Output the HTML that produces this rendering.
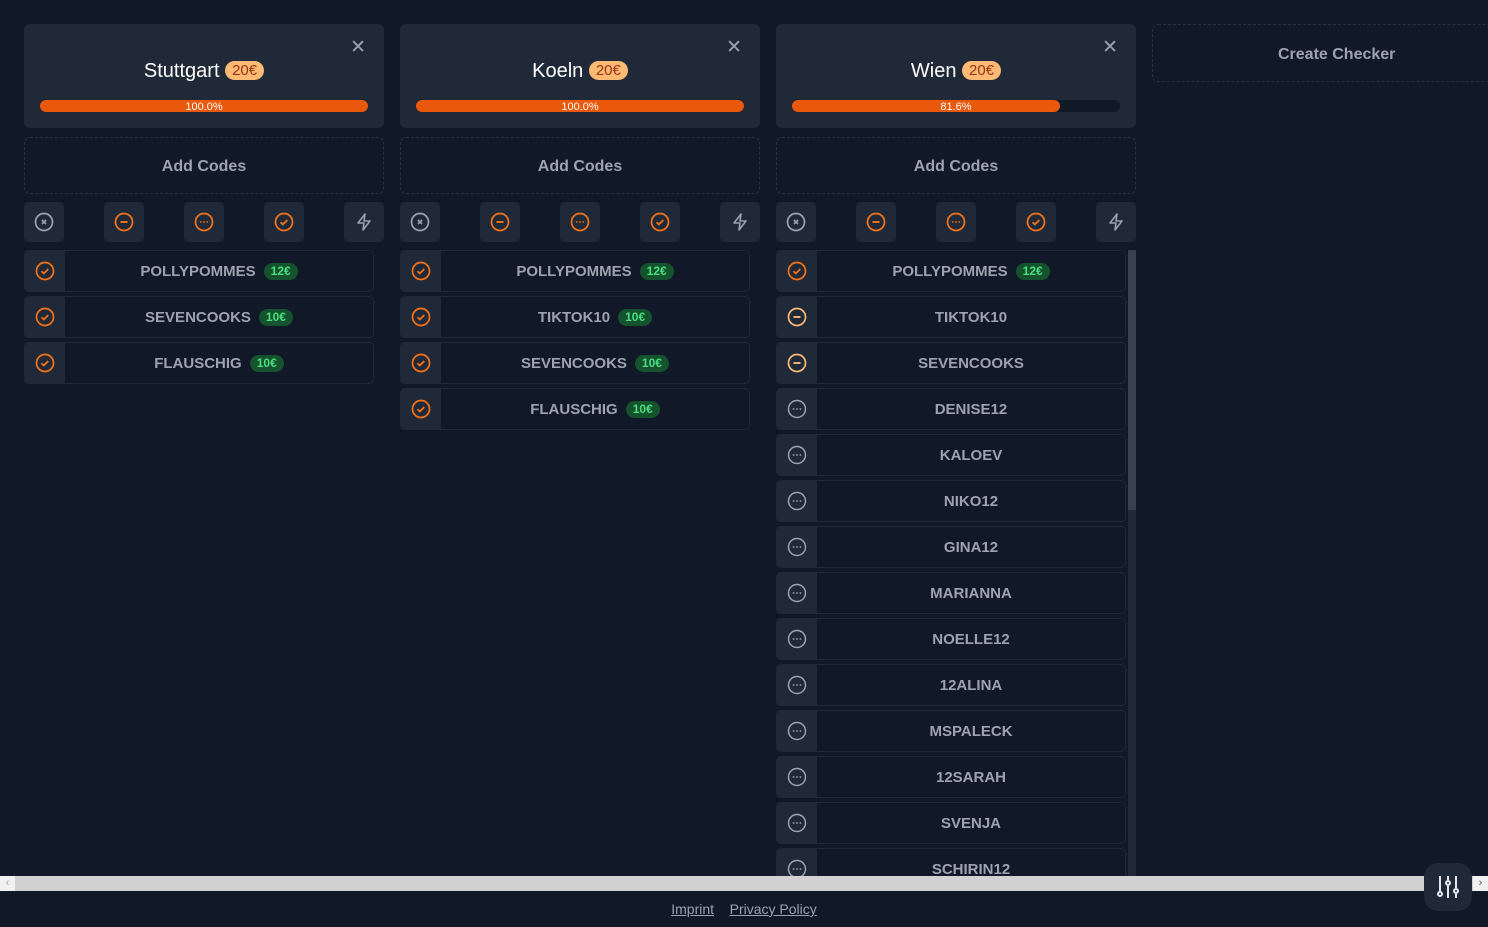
<!DOCTYPE html>
<html><head><meta charset="utf-8"><style>
*{box-sizing:border-box;margin:0;padding:0}
body{width:1488px;height:927px;background:#111827;font-family:"Liberation Sans",sans-serif;overflow:hidden;position:relative}
.vp{position:absolute;left:0;top:0;width:1488px;height:876px;overflow:hidden}
.col{position:absolute;top:24px;width:360px}
.hd{height:104px;background:#1f2937;border-radius:6px;position:relative}
.hd .t{position:absolute;top:36px;left:0;right:0;text-align:center;color:#fff;font-size:20px}
.eur{display:inline-block;background:#fdba74;color:#9a3412;font-size:15px;border-radius:10px;padding:1px 7px;vertical-align:2px}
.x{position:absolute;right:18px;top:12px;color:#9ca3af;font-size:19px}
.bar{position:absolute;left:16px;right:16px;top:76px;height:12px;background:#111827;border-radius:6px}
.fill{height:12px;background:#ea580c;border-radius:6px}
.pt{position:absolute;left:0;right:0;top:1px;text-align:center;color:#fff;font-size:11px;line-height:12px}
.add{margin-top:9px;height:57px;border:1px dashed #273142;border-radius:6px;text-align:center;line-height:57px;color:#9ca3af;font-size:16px;font-weight:bold}
.btns{margin-top:8px;height:40px;position:relative}
.b{position:absolute;top:0;width:40px;height:40px;background:#1f2937;border-radius:5px;display:flex;align-items:center;justify-content:center}
.list{margin-top:8px}
.r{height:42px;width:350px;border:1px solid #1f2937;border-radius:5px;margin-bottom:4px;position:relative;color:#9ca3af;font-size:15px;font-weight:bold;text-align:center;line-height:41px;padding-left:40px}
.r .ic{position:absolute;left:-1px;top:-1px;width:41px;height:42px;background:#1f2937;border-radius:5px 0 0 5px;display:flex;align-items:center;justify-content:center}
.g{display:inline-block;background:#14532d;color:#4ade80;font-size:12px;border-radius:9px;padding:0 7px;line-height:17px;margin-left:8px;vertical-align:1px}
.sb{position:absolute;left:352px;top:226px;width:8px;height:700px;background:#1f2937}
.sb div{height:260px;background:#374151}
</style></head><body>
<svg width="0" height="0" style="position:absolute"><defs>
<g id="ck"><circle cx="10" cy="10" r="8.5" fill="none" stroke="#f97316" stroke-width="1.7"/><path d="M6.5 10.3l2.3 2.2 4.5-4.5" fill="none" stroke="#f97316" stroke-width="1.7"/></g>
<g id="mn"><circle cx="10" cy="10" r="8.5" fill="none" stroke="#fdba74" stroke-width="1.7"/><path d="M6.5 10h7" stroke="#fdba74" stroke-width="1.9"/></g>
<g id="mn2"><circle cx="10" cy="10" r="8.5" fill="none" stroke="#f97316" stroke-width="1.7"/><path d="M6.5 10h7" stroke="#f97316" stroke-width="1.9"/></g>
<g id="dt"><circle cx="10" cy="10" r="8.5" fill="none" stroke="#9ca3af" stroke-width="1.5"/><circle cx="6.6" cy="10" r="0.9" fill="#9ca3af"/><circle cx="10" cy="10" r="0.9" fill="#9ca3af"/><circle cx="13.4" cy="10" r="0.9" fill="#9ca3af"/></g>
<g id="dt2"><circle cx="10" cy="10" r="8.5" fill="none" stroke="#f97316" stroke-width="1.7"/><circle cx="6.6" cy="10" r="0.9" fill="#f97316"/><circle cx="10" cy="10" r="0.9" fill="#f97316"/><circle cx="13.4" cy="10" r="0.9" fill="#f97316"/></g>
<g id="xx"><circle cx="10" cy="10" r="8.5" fill="none" stroke="#9ca3af" stroke-width="1.7"/><path d="M8 8l4 4M12 8l-4 4" stroke="#9ca3af" stroke-width="1.6"/></g>
<g id="bl"><path d="M11 2L4 11h6l-1 7 7-9h-6z" fill="none" stroke="#9ca3af" stroke-width="1.6" stroke-linejoin="round"/></g>
</defs></svg>
<div class="vp">

<div class="col" style="left:24px">
<div class="hd"><div class="x">✕</div><div class="t">Stuttgart <span class="eur">20€</span></div><div class="bar"><div class="fill" style="width:100%"></div><div class="pt">100.0%</div></div></div>
<div class="add">Add Codes</div>
<div class="btns"><div class="b" style="left:0"><svg width="20" height="20"><use href="#xx"/></svg></div><div class="b" style="left:80px"><svg width="20" height="20"><use href="#mn2"/></svg></div><div class="b" style="left:160px"><svg width="20" height="20"><use href="#dt2"/></svg></div><div class="b" style="left:240px"><svg width="20" height="20"><use href="#ck"/></svg></div><div class="b" style="left:320px"><svg width="20" height="20"><use href="#bl"/></svg></div></div>
<div class="list">
<div class="r"><div class="ic"><svg width="20" height="20"><use href="#ck"/></svg></div>POLLYPOMMES<span class="g">12€</span></div>
<div class="r"><div class="ic"><svg width="20" height="20"><use href="#ck"/></svg></div>SEVENCOOKS<span class="g">10€</span></div>
<div class="r"><div class="ic"><svg width="20" height="20"><use href="#ck"/></svg></div>FLAUSCHIG<span class="g">10€</span></div>
</div></div>

<div class="col" style="left:400px">
<div class="hd"><div class="x">✕</div><div class="t">Koeln <span class="eur">20€</span></div><div class="bar"><div class="fill" style="width:100%"></div><div class="pt">100.0%</div></div></div>
<div class="add">Add Codes</div>
<div class="btns"><div class="b" style="left:0"><svg width="20" height="20"><use href="#xx"/></svg></div><div class="b" style="left:80px"><svg width="20" height="20"><use href="#mn2"/></svg></div><div class="b" style="left:160px"><svg width="20" height="20"><use href="#dt2"/></svg></div><div class="b" style="left:240px"><svg width="20" height="20"><use href="#ck"/></svg></div><div class="b" style="left:320px"><svg width="20" height="20"><use href="#bl"/></svg></div></div>
<div class="list">
<div class="r"><div class="ic"><svg width="20" height="20"><use href="#ck"/></svg></div>POLLYPOMMES<span class="g">12€</span></div>
<div class="r"><div class="ic"><svg width="20" height="20"><use href="#ck"/></svg></div>TIKTOK10<span class="g">10€</span></div>
<div class="r"><div class="ic"><svg width="20" height="20"><use href="#ck"/></svg></div>SEVENCOOKS<span class="g">10€</span></div>
<div class="r"><div class="ic"><svg width="20" height="20"><use href="#ck"/></svg></div>FLAUSCHIG<span class="g">10€</span></div>
</div></div>

<div class="col" style="left:776px">
<div class="hd"><div class="x">✕</div><div class="t">Wien <span class="eur">20€</span></div><div class="bar"><div class="fill" style="width:81.6%"></div><div class="pt">81.6%</div></div></div>
<div class="add">Add Codes</div>
<div class="btns"><div class="b" style="left:0"><svg width="20" height="20"><use href="#xx"/></svg></div><div class="b" style="left:80px"><svg width="20" height="20"><use href="#mn2"/></svg></div><div class="b" style="left:160px"><svg width="20" height="20"><use href="#dt2"/></svg></div><div class="b" style="left:240px"><svg width="20" height="20"><use href="#ck"/></svg></div><div class="b" style="left:320px"><svg width="20" height="20"><use href="#bl"/></svg></div></div>
<div class="sb"><div></div></div>
<div class="list">
<div class="r"><div class="ic"><svg width="20" height="20"><use href="#ck"/></svg></div>POLLYPOMMES<span class="g">12€</span></div>
<div class="r"><div class="ic"><svg width="20" height="20"><use href="#mn"/></svg></div>TIKTOK10</div>
<div class="r"><div class="ic"><svg width="20" height="20"><use href="#mn"/></svg></div>SEVENCOOKS</div>
<div class="r"><div class="ic"><svg width="20" height="20"><use href="#dt"/></svg></div>DENISE12</div>
<div class="r"><div class="ic"><svg width="20" height="20"><use href="#dt"/></svg></div>KALOEV</div>
<div class="r"><div class="ic"><svg width="20" height="20"><use href="#dt"/></svg></div>NIKO12</div>
<div class="r"><div class="ic"><svg width="20" height="20"><use href="#dt"/></svg></div>GINA12</div>
<div class="r"><div class="ic"><svg width="20" height="20"><use href="#dt"/></svg></div>MARIANNA</div>
<div class="r"><div class="ic"><svg width="20" height="20"><use href="#dt"/></svg></div>NOELLE12</div>
<div class="r"><div class="ic"><svg width="20" height="20"><use href="#dt"/></svg></div>12ALINA</div>
<div class="r"><div class="ic"><svg width="20" height="20"><use href="#dt"/></svg></div>MSPALECK</div>
<div class="r"><div class="ic"><svg width="20" height="20"><use href="#dt"/></svg></div>12SARAH</div>
<div class="r"><div class="ic"><svg width="20" height="20"><use href="#dt"/></svg></div>SVENJA</div>
<div class="r"><div class="ic"><svg width="20" height="20"><use href="#dt"/></svg></div>SCHIRIN12</div>
</div></div>

<div style="position:absolute;left:1152px;top:24px;width:360px;height:58px;border:1px dashed #273142;border-radius:6px;color:#9ca3af;font-size:16px;font-weight:bold;line-height:59px;padding-left:125px">Create Checker</div>
</div>

<div style="position:absolute;left:0;top:876px;width:1488px;height:15px;background:#d1d1d1"></div>
<div style="position:absolute;left:0;top:876px;width:15px;height:15px;background:#f1f1f1;color:#a3a3a3;font-size:11px;text-align:center;line-height:15px">‹</div>
<div style="position:absolute;left:1473px;top:876px;width:15px;height:15px;background:#f1f1f1;color:#505050;font-size:11px;text-align:center;line-height:15px">›</div>
<div style="position:absolute;left:1424px;top:863px;width:48px;height:48px;background:#1f2937;border-radius:14px;display:flex;align-items:center;justify-content:center">
<svg width="26" height="26" viewBox="0 0 26 26" fill="none" stroke="#e5e7eb" stroke-width="2"><path d="M5 2v16M13 2v4M13 12v12M21 2v12M21 20v4"/><circle cx="5" cy="20" r="2"/><circle cx="13" cy="9" r="2"/><circle cx="21" cy="17" r="2"/></svg></div>
<div style="position:absolute;top:901px;left:0;width:1488px;text-align:center;font-size:14px;color:#9ca3af"><u>Imprint</u>&nbsp;&nbsp;&nbsp;&nbsp;<u>Privacy Policy</u></div>
</body></html>
